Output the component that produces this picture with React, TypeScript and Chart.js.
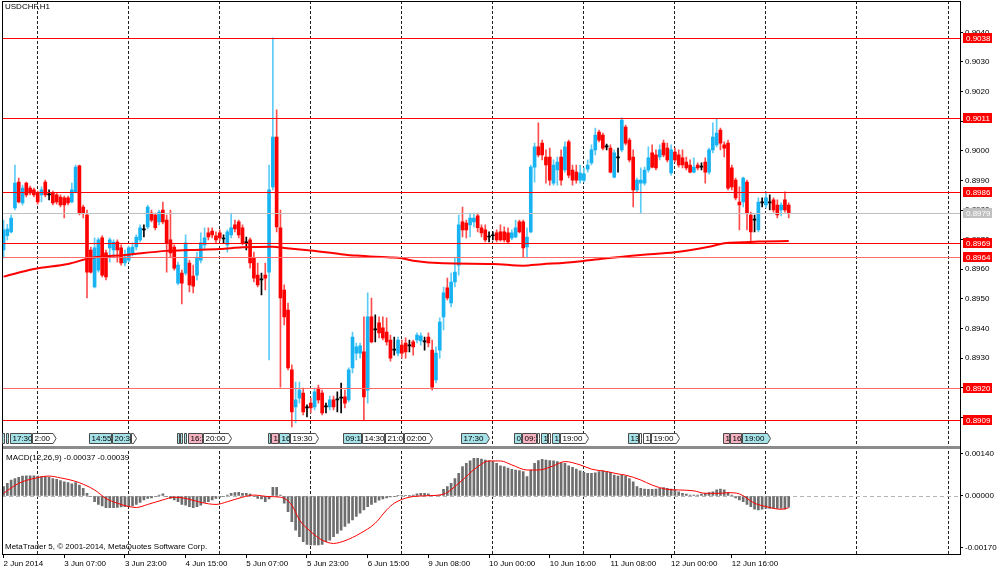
import { useEffect, useRef } from 'react';
import { Chart, registerables } from 'chart.js';

Chart.register(...registerables);

// USDCHF H1, one entry per bar, bar 0 = 2 Jun 2014 15:00
const opens = [
  0.89665, 0.89713, 0.89726, 0.89807, 0.89894, 0.89824, 0.89891, 0.89874, 0.89868, 0.89858,
  0.89851, 0.89894, 0.89851, 0.89858, 0.89851, 0.89844, 0.89841, 0.89841, 0.89827, 0.89861,
  0.89949, 0.89810, 0.89783, 0.89665, 0.89540, 0.89597, 0.89706, 0.89655, 0.89672, 0.89665,
  0.89692, 0.89672, 0.89621, 0.89631, 0.89655, 0.89675, 0.89699, 0.89733, 0.89743, 0.89790,
  0.89783, 0.89760, 0.89800, 0.89766, 0.89699, 0.89675, 0.89553, 0.89587, 0.89587, 0.89621,
  0.89577, 0.89580, 0.89631, 0.89682, 0.89723, 0.89729, 0.89713, 0.89723, 0.89702, 0.89682,
  0.89716, 0.89750, 0.89760, 0.89740, 0.89689, 0.89699, 0.89638, 0.89580, 0.89564, 0.89580,
  0.89590, 0.89878, 0.90046, 0.89740, 0.89530, 0.89462, 0.89260, 0.89135, 0.89165, 0.89182,
  0.89132, 0.89148, 0.89135, 0.89199, 0.89182, 0.89135, 0.89135, 0.89159, 0.89159, 0.89165,
  0.89169, 0.89159, 0.89267, 0.89317, 0.89317, 0.89321, 0.89192, 0.89439, 0.89395, 0.89419,
  0.89402, 0.89388, 0.89361, 0.89327, 0.89317, 0.89344, 0.89351, 0.89341, 0.89355, 0.89361,
  0.89358, 0.89355, 0.89371, 0.89327, 0.89226, 0.89327, 0.89439, 0.89537, 0.89486, 0.89557,
  0.89614, 0.89760, 0.89756, 0.89750, 0.89760, 0.89780, 0.89740, 0.89733, 0.89709, 0.89713,
  0.89723, 0.89726, 0.89726, 0.89723, 0.89706, 0.89709, 0.89760, 0.89760, 0.89675, 0.89726,
  0.89945, 0.90013, 0.90026, 0.89979, 0.89979, 0.89891, 0.89935, 0.89979, 0.89935, 0.90030,
  0.89935, 0.89928, 0.89901, 0.89901, 0.89938, 0.89959, 0.90003, 0.90063, 0.90053, 0.90013,
  0.90009, 0.89911, 0.89976, 0.90003, 0.90080, 0.90036, 0.89979, 0.89868, 0.89891, 0.89891,
  0.89935, 0.89993, 0.89986, 0.89979, 0.90026, 0.90009, 0.89925, 0.89996, 0.89986, 0.89976,
  0.89962, 0.89952, 0.89928, 0.89952, 0.89945, 0.89962, 0.89928, 0.90003, 0.90020, 0.90070,
  0.90020, 0.90026, 0.89942, 0.89901, 0.89827, 0.89827, 0.89894, 0.89783, 0.89766, 0.89733,
  0.89824, 0.89817, 0.89824, 0.89834, 0.89817, 0.89800, 0.89834, 0.89817,
];
const highs = [
  0.89766, 0.89752, 0.89783, 0.89952, 0.89908, 0.89884, 0.89894, 0.89881, 0.89874, 0.89864,
  0.89878, 0.89901, 0.89868, 0.89864, 0.89858, 0.89851, 0.89847, 0.89847, 0.89891, 0.89952,
  0.89952, 0.89817, 0.89800, 0.89675, 0.89706, 0.89706, 0.89713, 0.89665, 0.89706, 0.89699,
  0.89699, 0.89682, 0.89665, 0.89678, 0.89689, 0.89716, 0.89750, 0.89750, 0.89817, 0.89800,
  0.89790, 0.89800, 0.89827, 0.89783, 0.89800, 0.89682, 0.89624, 0.89597, 0.89716, 0.89631,
  0.89614, 0.89658, 0.89723, 0.89740, 0.89740, 0.89740, 0.89726, 0.89733, 0.89716, 0.89733,
  0.89790, 0.89766, 0.89766, 0.89750, 0.89709, 0.89706, 0.89658, 0.89621, 0.89587, 0.89621,
  0.89952, 0.90381, 0.90138, 0.89800, 0.89547, 0.89486, 0.89277, 0.89219, 0.89219, 0.89199,
  0.89142, 0.89165, 0.89199, 0.89209, 0.89192, 0.89148, 0.89172, 0.89172, 0.89186, 0.89216,
  0.89192, 0.89267, 0.89388, 0.89351, 0.89351, 0.89439, 0.89520, 0.89503, 0.89446, 0.89439,
  0.89439, 0.89436, 0.89378, 0.89371, 0.89371, 0.89361, 0.89368, 0.89361, 0.89361, 0.89385,
  0.89385, 0.89371, 0.89385, 0.89361, 0.89338, 0.89436, 0.89540, 0.89570, 0.89587, 0.89638,
  0.89783, 0.89810, 0.89766, 0.89790, 0.89790, 0.89790, 0.89750, 0.89750, 0.89726, 0.89726,
  0.89733, 0.89750, 0.89743, 0.89740, 0.89733, 0.89766, 0.89766, 0.89766, 0.89740, 0.89952,
  0.90026, 0.90094, 0.90036, 0.90003, 0.90009, 0.89969, 0.89979, 0.90003, 0.90030, 0.90036,
  0.89952, 0.89952, 0.89952, 0.89942, 0.89969, 0.90020, 0.90077, 0.90070, 0.90060, 0.90023,
  0.90020, 0.90003, 0.90009, 0.90111, 0.90087, 0.90043, 0.90003, 0.89908, 0.89942, 0.89945,
  0.90013, 0.90020, 0.90003, 0.90020, 0.90036, 0.90026, 0.90020, 0.90009, 0.90003, 0.90003,
  0.89979, 0.89969, 0.89976, 0.89959, 0.89959, 0.89976, 0.90009, 0.90094, 0.90107, 0.90077,
  0.90030, 0.90036, 0.89952, 0.89908, 0.89878, 0.89911, 0.89901, 0.89793, 0.89783, 0.89841,
  0.89841, 0.89861, 0.89851, 0.89841, 0.89834, 0.89824, 0.89861, 0.89824,
];
const lows = [
  0.89638, 0.89699, 0.89723, 0.89800, 0.89824, 0.89817, 0.89844, 0.89851, 0.89844, 0.89820,
  0.89827, 0.89844, 0.89834, 0.89817, 0.89820, 0.89810, 0.89773, 0.89817, 0.89824, 0.89858,
  0.89783, 0.89773, 0.89503, 0.89587, 0.89537, 0.89590, 0.89574, 0.89564, 0.89624, 0.89638,
  0.89624, 0.89614, 0.89611, 0.89624, 0.89645, 0.89665, 0.89692, 0.89709, 0.89736, 0.89760,
  0.89733, 0.89750, 0.89753, 0.89590, 0.89641, 0.89597, 0.89547, 0.89483, 0.89580, 0.89523,
  0.89520, 0.89564, 0.89621, 0.89665, 0.89699, 0.89706, 0.89689, 0.89696, 0.89689, 0.89658,
  0.89706, 0.89726, 0.89706, 0.89682, 0.89665, 0.89604, 0.89557, 0.89540, 0.89513, 0.89530,
  0.89294, 0.89868, 0.89726, 0.89202, 0.89412, 0.89260, 0.89068, 0.89081, 0.89148, 0.89108,
  0.89101, 0.89115, 0.89125, 0.89148, 0.89108, 0.89115, 0.89125, 0.89125, 0.89118, 0.89115,
  0.89132, 0.89152, 0.89250, 0.89294, 0.89300, 0.89091, 0.89148, 0.89351, 0.89355, 0.89368,
  0.89361, 0.89344, 0.89290, 0.89310, 0.89307, 0.89300, 0.89300, 0.89321, 0.89310, 0.89351,
  0.89344, 0.89327, 0.89338, 0.89192, 0.89216, 0.89300, 0.89395, 0.89496, 0.89473, 0.89540,
  0.89580, 0.89709, 0.89706, 0.89709, 0.89743, 0.89726, 0.89709, 0.89692, 0.89692, 0.89699,
  0.89692, 0.89695, 0.89692, 0.89689, 0.89699, 0.89706, 0.89723, 0.89641, 0.89641, 0.89723,
  0.89894, 0.89979, 0.89969, 0.89891, 0.89884, 0.89884, 0.89884, 0.89884, 0.89928, 0.89908,
  0.89884, 0.89891, 0.89891, 0.89894, 0.89928, 0.89952, 0.89986, 0.90030, 0.90003, 0.90003,
  0.89925, 0.89908, 0.89928, 0.89996, 0.90020, 0.89962, 0.89810, 0.89861, 0.89790, 0.89884,
  0.89928, 0.89942, 0.89935, 0.89969, 0.89979, 0.89962, 0.89918, 0.89962, 0.89945, 0.89942,
  0.89935, 0.89925, 0.89925, 0.89935, 0.89935, 0.89891, 0.89921, 0.89993, 0.90013, 0.90003,
  0.89979, 0.89868, 0.89868, 0.89834, 0.89733, 0.89810, 0.89733, 0.89689, 0.89726, 0.89726,
  0.89810, 0.89807, 0.89800, 0.89793, 0.89773, 0.89780, 0.89793, 0.89773,
];
const closes = [
  0.89733, 0.89736, 0.89773, 0.89891, 0.89827, 0.89874, 0.89851, 0.89858, 0.89851, 0.89827,
  0.89868, 0.89851, 0.89851, 0.89824, 0.89827, 0.89817, 0.89817, 0.89824, 0.89868, 0.89945,
  0.89790, 0.89790, 0.89590, 0.89590, 0.89672, 0.89699, 0.89580, 0.89574, 0.89699, 0.89692,
  0.89665, 0.89621, 0.89641, 0.89672, 0.89675, 0.89709, 0.89740, 0.89733, 0.89810, 0.89766,
  0.89740, 0.89793, 0.89760, 0.89689, 0.89655, 0.89604, 0.89614, 0.89553, 0.89689, 0.89547,
  0.89543, 0.89638, 0.89689, 0.89706, 0.89709, 0.89716, 0.89699, 0.89706, 0.89702, 0.89726,
  0.89740, 0.89736, 0.89716, 0.89689, 0.89689, 0.89621, 0.89570, 0.89547, 0.89564, 0.89570,
  0.89868, 0.90046, 0.89743, 0.89503, 0.89439, 0.89267, 0.89118, 0.89159, 0.89192, 0.89118,
  0.89132, 0.89132, 0.89186, 0.89159, 0.89115, 0.89135, 0.89159, 0.89135, 0.89159, 0.89165,
  0.89148, 0.89260, 0.89371, 0.89338, 0.89341, 0.89169, 0.89439, 0.89355, 0.89395, 0.89385,
  0.89368, 0.89355, 0.89300, 0.89327, 0.89361, 0.89317, 0.89321, 0.89341, 0.89338, 0.89378,
  0.89375, 0.89355, 0.89351, 0.89202, 0.89317, 0.89422, 0.89520, 0.89503, 0.89557, 0.89590,
  0.89750, 0.89733, 0.89733, 0.89773, 0.89773, 0.89740, 0.89723, 0.89699, 0.89709, 0.89713,
  0.89699, 0.89699, 0.89699, 0.89692, 0.89723, 0.89740, 0.89726, 0.89672, 0.89709, 0.89945,
  0.90013, 0.89986, 0.89986, 0.89952, 0.89901, 0.89952, 0.89962, 0.89901, 0.90013, 0.89918,
  0.89901, 0.89901, 0.89925, 0.89922, 0.89952, 0.90003, 0.90053, 0.90036, 0.90009, 0.90013,
  0.89928, 0.89993, 0.89976, 0.90104, 0.90026, 0.89969, 0.89868, 0.89901, 0.89901, 0.89935,
  0.89976, 0.89945, 0.89942, 0.90003, 0.89986, 0.89969, 0.90003, 0.89969, 0.89952, 0.89952,
  0.89942, 0.89928, 0.89945, 0.89942, 0.89945, 0.89928, 0.90003, 0.90046, 0.90060, 0.90026,
  0.90009, 0.89874, 0.89878, 0.89841, 0.89817, 0.89908, 0.89790, 0.89726, 0.89766, 0.89827,
  0.89824, 0.89841, 0.89824, 0.89800, 0.89783, 0.89817, 0.89800, 0.89790,
];

// moving average read at sample bars
const maBars = [0, 8, 17, 23, 32, 43, 49, 57, 63, 71, 74, 81, 89, 93, 98, 102, 105, 108, 116, 129, 137, 142, 148, 153, 159, 168, 177, 186, 190, 195, 199, 207];
const maValues = [
  0.89575, 0.89601, 0.89618, 0.89638, 0.89648, 0.89662, 0.89665, 0.89668, 0.89674, 0.89676,
  0.89672, 0.89663, 0.89651, 0.89646, 0.89642, 0.89640, 0.89637, 0.89629, 0.89620, 0.89618,
  0.89612, 0.89617, 0.89622, 0.89628, 0.89637, 0.89648, 0.89657, 0.89676, 0.89688, 0.89691,
  0.89694, 0.89695,
];

// MACD main (histogram), one per bar
const macdMain = [
  0.00031, 0.00042, 0.00053, 0.00058, 0.00062, 0.00066, 0.00067, 0.00067, 0.00067, 0.00066,
  0.00064, 0.00064, 0.00062, 0.00058, 0.00055, 0.00051, 0.00047, 0.00044, 0.00040, 0.00044,
  0.00036, 0.00025, 0.00009, -0.00002, -0.00019, -0.00028, -0.00033, -0.00039, -0.00039, -0.00039,
  -0.00038, -0.00036, -0.00035, -0.00035, -0.00033, -0.00028, -0.00021, -0.00013, -0.00008, -0.00006,
  -0.00001, 0.00003, 0.00007, -0.00002, -0.00008, -0.00013, -0.00019, -0.00028, -0.00030, -0.00035,
  -0.00039, -0.00035, -0.00030, -0.00021, -0.00019, -0.00013, -0.00008, -0.00004, -0.00002, 0.00003,
  0.00009, 0.00011, 0.00012, 0.00009, 0.00009, 0.00006, -0.00002, -0.00008, -0.00010, -0.00019,
  -0.00010, 0.00029, 0.00029, 0.00003, -0.00024, -0.00052, -0.00085, -0.00113, -0.00135, -0.00151,
  -0.00160, -0.00162, -0.00162, -0.00162, -0.00160, -0.00151, -0.00146, -0.00135, -0.00124, -0.00113,
  -0.00101, -0.00090, -0.00079, -0.00068, -0.00057, -0.00046, -0.00035, -0.00028, -0.00021, -0.00014,
  -0.00010, -0.00006, -0.00003, -0.00002, 0.00001, 0.00001, 0.00001, 0.00002, 0.00003, 0.00007,
  0.00009, 0.00009, 0.00007, 0.00001, 0.00001, 0.00003, 0.00022, 0.00031, 0.00042, 0.00058,
  0.00075, 0.00097, 0.00108, 0.00116, 0.00125, 0.00125, 0.00122, 0.00119, 0.00116, 0.00114,
  0.00108, 0.00100, 0.00097, 0.00092, 0.00088, 0.00086, 0.00084, 0.00081, 0.00064, 0.00086,
  0.00108, 0.00117, 0.00121, 0.00119, 0.00117, 0.00116, 0.00114, 0.00110, 0.00108, 0.00100,
  0.00095, 0.00089, 0.00083, 0.00078, 0.00075, 0.00075, 0.00077, 0.00081, 0.00083, 0.00081,
  0.00078, 0.00069, 0.00066, 0.00069, 0.00066, 0.00058, 0.00047, 0.00031, 0.00025, 0.00023,
  0.00022, 0.00022, 0.00023, 0.00025, 0.00028, 0.00025, 0.00023, 0.00020, 0.00014, 0.00009,
  0.00006, 0.00003, 0.00003, 0.00003, 0.00006, 0.00009, 0.00011, 0.00014, 0.00020, 0.00023,
  0.00020, 0.00011, 0.00003, -0.00006, -0.00013, -0.00019, -0.00028, -0.00035, -0.00044, -0.00046,
  -0.00044, -0.00041, -0.00041, -0.00041, -0.00041, -0.00041, -0.00044, -0.00037,
];

// MACD signal line read at sample bars
const signalBars = [0, 4, 8, 12, 15, 17, 20, 24, 27, 30, 33, 35, 38, 42, 45, 48, 52, 56, 59, 63, 66, 70, 73, 76, 78, 81, 84, 87, 90, 94, 98, 101, 103, 107, 112, 116, 120, 125, 128, 131, 134, 138, 141, 145, 148, 152, 155, 159, 162, 164, 168, 171, 175, 178, 182, 185, 189, 191, 194, 198, 201, 205, 207];
const signalValues = [
  0.00009, 0.00042, 0.00058, 0.00066, 0.00060, 0.00055, 0.00044, 0.00020, -0.00008, -0.00024,
  -0.00035, -0.00038, -0.00028, -0.00013, -0.00004, -0.00008, -0.00021, -0.00028, -0.00019, -0.00004,
  0.00003, -0.00002, -0.00004, -0.00030, -0.00079, -0.00118, -0.00146, -0.00157, -0.00148, -0.00124,
  -0.00090, -0.00046, -0.00024, -0.00004, 0.00001, 0.00006, 0.00042, 0.00097, 0.00116, 0.00116,
  0.00103, 0.00086, 0.00086, 0.00100, 0.00114, 0.00103, 0.00089, 0.00081, 0.00073, 0.00069,
  0.00053, 0.00036, 0.00022, 0.00020, 0.00017, 0.00009, 0.00009, 0.00011, 0.00007, -0.00024,
  -0.00035, -0.00044, -0.00039,
];

const priceTicks = [0.891, 0.892, 0.893, 0.894, 0.895, 0.896, 0.897, 0.898, 0.899, 0.9, 0.901, 0.902, 0.903, 0.904];
const macdTicks = [0.0014, 0, -0.0017];
const timeLabelBars = [0, 16, 32, 48, 64, 80, 96, 112, 128, 144, 160, 176, 192];
const timeLabels = ['2 Jun 2014', '3 Jun 07:00', '3 Jun 23:00', '4 Jun 15:00', '5 Jun 07:00', '5 Jun 23:00', '6 Jun 15:00', '9 Jun 08:00', '10 Jun 00:00', '10 Jun 16:00', '11 Jun 08:00', '12 Jun 00:00', '12 Jun 16:00'];
const daySeparatorBars = [9, 33, 57, 81, 105, 129, 153, 177, 201, 225, 249];

const levelPrices = [0.9038, 0.9011, 0.8986, 0.8969, 0.8964, 0.892, 0.8909];
const bidPrice = 0.8979;
const macdLast = -0.00037;
const signalLast = -0.00039;

// calendar events: bar, caption, importance (c = low, p = high, w = none)
const eventBars = [0, 1, 2, 8, 23, 29, 34, 46, 47, 48, 49, 53, 70, 71, 73, 76, 90, 95, 101, 106, 121, 135, 137, 141, 142, 144, 145, 147, 165, 168, 169, 171, 190, 192, 195];
const eventTexts = ['', '', '17:30', '2:00', '14:55', '20:30', '', '', '', '', '16:30', '20:00', '', '1', '16', '19:30', '09:15', '14:30', '21:00', '02:00', '17:30', '0', '09:30', '', '1', '', '1', '19:00', '13', '', '1', '19:00', '1', '16', '19:00'];
const eventKinds = ['c', 'c', 'c', 'w', 'c', 'c', 'w', 'c', 'c', 'c', 'p', 'w', 'c', 'p', 'c', 'w', 'c', 'w', 'w', 'w', 'c', 'c', 'p', 'w', 'c', 'w', 'c', 'w', 'c', 'w', 'w', 'w', 'p', 'p', 'c'];

const FONT = "'Liberation Sans', Arial, sans-serif";
const UP = '#17b3f2';
const UP_WICK = '#5ccbf6';
const DOWN = '#ff0000';
const DOWN_WICK = '#ff4d4d';
const DOJI = '#000000';
const KIND_FILL: Record<string, string> = { c: '#a6e3e9', p: '#f5b2c0', w: '#ffffff' };

const bars = opens.map((_, i) => i);
const candleColor = (i: number, up: string, down: string) =>
  closes[i] > opens[i] ? up : closes[i] < opens[i] ? down : DOJI;

const mtDecor = {
  id: 'mtDecor',
  beforeDatasetsDraw(chart: any) {
    const { ctx, chartArea: a } = chart;
    const y2 = chart.scales.y2;
    const zy = Math.round(y2.getPixelForValue(0)) + 0.5;
    ctx.save();
    ctx.strokeStyle = '#b4b4b4';
    ctx.lineWidth = 1;
    ctx.setLineDash([4, 3]);
    ctx.beginPath();
    ctx.moveTo(a.left, zy);
    ctx.lineTo(a.right, zy);
    ctx.stroke();
    ctx.restore();
  },
  afterDatasetsDraw(chart: any) {
    const { ctx, chartArea: a } = chart;
    const y = chart.scales.y;
    ctx.save();
    ctx.beginPath();
    ctx.rect(a.left, y.top, a.right - a.left, y.bottom - y.top);
    ctx.clip();
    ctx.lineWidth = 1;
    levelPrices.forEach((p) => {
      const py = Math.round(y.getPixelForValue(p)) + 0.5;
      ctx.strokeStyle = p === 0.8964 || p === 0.892 ? '#ff6a6a' : '#ff0000';
      ctx.beginPath();
      ctx.moveTo(a.left, py);
      ctx.lineTo(a.right, py);
      ctx.stroke();
    });
    const by = Math.round(y.getPixelForValue(bidPrice)) + 0.5;
    ctx.strokeStyle = '#c0c0c0';
    ctx.beginPath();
    ctx.moveTo(a.left, by);
    ctx.lineTo(a.right, by);
    ctx.stroke();
    ctx.restore();
  },
  afterDraw(chart: any) {
    const { ctx, chartArea: a } = chart;
    const x = chart.scales.x;
    const y = chart.scales.y;
    ctx.save();

    // panel separator and frame
    ctx.fillStyle = '#8c8c8c';
    ctx.fillRect(a.left, y.bottom - 1.5, a.right - a.left, 3);
    ctx.strokeStyle = '#000';
    ctx.lineWidth = 1;
    ctx.strokeRect(a.left + 0.5, a.top + 0.5, a.right - a.left, a.bottom - a.top);

    // event flags
    ctx.font = `8px ${FONT}`;
    ctx.textBaseline = 'middle';
    ctx.textAlign = 'left';
    const top = Math.round(y.bottom - 15) + 0.5;
    const h = 10;
    eventBars.forEach((b, k) => {
      const x0 = Math.round(x.getPixelForValue(b) - 1.5) + 0.5;
      const next = k < eventBars.length - 1 ? Math.round(x.getPixelForValue(eventBars[k + 1]) - 1.5) + 0.5 : Infinity;
      const text = eventTexts[k];
      const want = text ? ctx.measureText(text).width + 5 : 2;
      const room = next - x0;
      const w = Math.max(2, Math.min(want, room - 1));
      const arrow = room - w >= 4 ? 3 : 0;
      ctx.beginPath();
      ctx.moveTo(x0, top);
      ctx.lineTo(x0 + w, top);
      ctx.lineTo(x0 + w + arrow, top + h / 2);
      ctx.lineTo(x0 + w, top + h);
      ctx.lineTo(x0, top + h);
      ctx.closePath();
      ctx.fillStyle = KIND_FILL[eventKinds[k]];
      ctx.fill();
      ctx.strokeStyle = '#4a4a4a';
      ctx.stroke();
      if (text) {
        ctx.save();
        ctx.beginPath();
        ctx.rect(x0 + 1, top, w - 1, h);
        ctx.clip();
        ctx.fillStyle = '#000';
        ctx.fillText(text, x0 + 2, top + h / 2 + 0.5);
        ctx.restore();
      }
    });

    // price tags on the right axis
    const tag = (p: number, fill: string) => {
      const py = Math.round(y.getPixelForValue(p));
      ctx.fillStyle = fill;
      ctx.fillRect(y.left + 3, py - 5, 29, 10);
      ctx.fillStyle = '#fff';
      ctx.fillText(p.toFixed(4), y.left + 6, py + 0.5);
    };
    levelPrices.forEach((p) => tag(p, '#ff0000'));
    tag(bidPrice, '#c0c0c0');

    // captions
    ctx.fillStyle = '#000';
    ctx.textBaseline = 'top';
    ctx.fillText('USDCHF,H1', 5, 3);
    ctx.fillText(`MACD(12,26,9) ${macdLast.toFixed(5)} ${signalLast.toFixed(5)}`, 6, 454);
    ctx.textBaseline = 'bottom';
    ctx.fillText('MetaTrader 5, © 2001-2014, MetaQuotes Software Corp.', 5, 551);
    ctx.restore();
  },
};

export default function App() {
  const canvasRef = useRef<HTMLCanvasElement>(null);

  useEffect(() => {
    const canvas = canvasRef.current;
    if (!canvas) return;
    const tickFont = { family: FONT, size: 8 };
    const xTicks = [...timeLabelBars, ...daySeparatorBars].sort((p, q) => p - q);

    const chart = new Chart(canvas, {
      type: 'bar',
      data: {
        datasets: [
          {
            type: 'line',
            data: maBars.map((b, k) => ({ x: b, y: maValues[k] })),
            yAxisID: 'y',
            borderColor: '#ff0000',
            borderWidth: 2,
            pointRadius: 0,
            cubicInterpolationMode: 'monotone',
            order: 0,
          },
          {
            type: 'line',
            data: signalBars.map((b, k) => ({ x: b, y: signalValues[k] })),
            yAxisID: 'y2',
            borderColor: '#ff0000',
            borderWidth: 1,
            pointRadius: 0,
            cubicInterpolationMode: 'monotone',
            order: 0,
          },
          {
            type: 'bar',
            data: bars.map((i) => ({ x: i, y: [Math.min(opens[i], closes[i]), Math.max(opens[i], closes[i])] })),
            yAxisID: 'y',
            backgroundColor: bars.map((i) => candleColor(i, UP, DOWN)),
            barThickness: 3,
            minBarLength: 1,
            grouped: false,
            order: 1,
          },
          {
            type: 'bar',
            data: bars.map((i) => ({ x: i, y: [lows[i], highs[i]] })),
            yAxisID: 'y',
            backgroundColor: bars.map((i) => candleColor(i, UP_WICK, DOWN_WICK)),
            barThickness: 1,
            grouped: false,
            order: 2,
          },
          {
            type: 'bar',
            data: bars.map((i) => ({ x: i, y: macdMain[i] })),
            yAxisID: 'y2',
            backgroundColor: '#6e6e6e',
            barThickness: 2,
            grouped: false,
            order: 2,
          },
        ] as any,
      },
      options: {
        responsive: true,
        maintainAspectRatio: false,
        animation: false,
        events: [],
        layout: { padding: { left: 2, top: 1, right: 0, bottom: 0 }, autoPadding: false } as any,
        plugins: { legend: { display: false }, tooltip: { enabled: false } },
        scales: {
          x: {
            type: 'linear',
            min: -0.41,
            max: 252.16,
            offset: false,
            afterBuildTicks: (s: any) => {
              s.ticks = xTicks.map((v) => ({ value: v }));
            },
            afterFit: (s: any) => {
              s.height = 20;
              s.paddingLeft = 0;
              s.paddingRight = 0;
            },
            grid: {
              offset: false,
              lineWidth: 1,
              color: (c: any) => (daySeparatorBars.includes(c.tick?.value) ? '#222' : 'rgba(0,0,0,0)'),
              tickColor: (c: any) => (daySeparatorBars.includes(c.tick?.value) ? 'rgba(0,0,0,0)' : '#000'),
              drawTicks: true,
              tickLength: 4,
              tickBorderDash: [],
            },
            border: { display: true, color: '#000', dash: [3, 2] },
            ticks: {
              autoSkip: false,
              maxRotation: 0,
              align: 'start',
              padding: 1,
              color: '#000',
              font: tickFont,
              callback: (v: any) => {
                const k = timeLabelBars.indexOf(Number(v));
                return k >= 0 ? timeLabels[k] : '';
              },
            },
          },
          y: {
            type: 'linear',
            position: 'right',
            stack: 'panes',
            stackWeight: 446.5,
            min: 0.889981,
            max: 0.905057,
            afterBuildTicks: (s: any) => {
              s.ticks = priceTicks.map((v) => ({ value: v }));
            },
            afterFit: (s: any) => {
              s.width = 40;
              s.paddingTop = 0;
              s.paddingBottom = 0;
            },
            grid: { drawOnChartArea: false, drawTicks: true, tickLength: 3, tickColor: '#000' },
            border: { display: true, color: '#000' },
            ticks: {
              autoSkip: false,
              padding: 2,
              color: '#000',
              font: tickFont,
              callback: (v: any) => Number(v).toFixed(4),
            },
          },
          y2: {
            type: 'linear',
            position: 'right',
            stack: 'panes',
            stackWeight: 106.5,
            min: -0.00192,
            max: 0.001605,
            afterBuildTicks: (s: any) => {
              s.ticks = macdTicks.map((v) => ({ value: v }));
            },
            afterFit: (s: any) => {
              s.width = 40;
              s.paddingTop = 0;
              s.paddingBottom = 0;
            },
            grid: { drawOnChartArea: false, drawTicks: true, tickLength: 3, tickColor: '#000' },
            border: { display: true, color: '#000' },
            ticks: {
              autoSkip: false,
              padding: 2,
              color: '#000',
              font: tickFont,
              callback: (v: any) => Number(v).toFixed(5),
            },
          },
        },
      } as any,
      plugins: [mtDecor],
    });

    return () => chart.destroy();
  }, []);

  return (
    <div style={{ position: 'fixed', left: 0, top: 0, width: 1000, height: 574, background: '#fff' }}>
      <canvas ref={canvasRef} />
    </div>
  );
}
